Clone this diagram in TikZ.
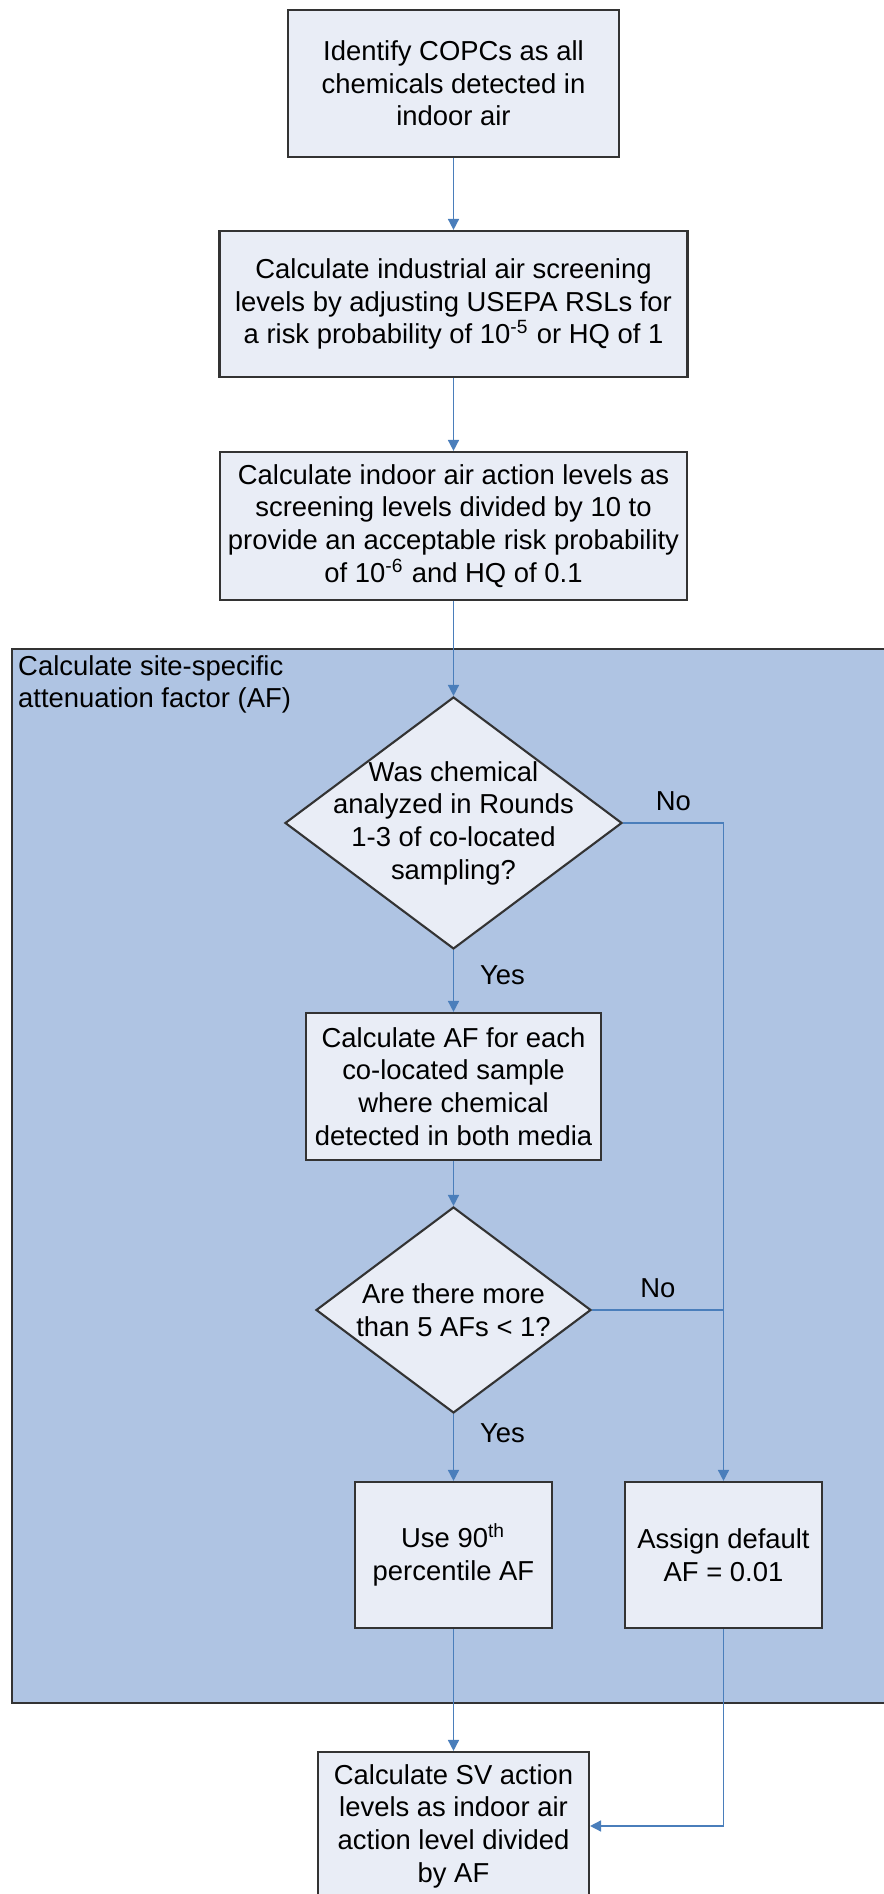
\documentclass[tikz,border=0pt]{standalone}
\usepackage{fontspec}
\setmainfont{Liberation Sans}
\usetikzlibrary{arrows.meta,shapes.geometric}
\definecolor{boxfill}{HTML}{E9EDF6}
\definecolor{groupfill}{HTML}{AFC4E3}
\definecolor{linkblue}{HTML}{4A7EBB}
\definecolor{edgegray}{HTML}{333333}

\begin{document}
\begin{tikzpicture}[>={Triangle[length=1.1mm, width=1.1mm]},
  font=\fontsize{7.8}{9.3}\selectfont,
  stepbox/.style={draw=edgegray, fill=boxfill, line width=0.6pt, align=center, inner sep=1pt},
  decision/.style={diamond, draw=edgegray, fill=boxfill, line width=0.6pt, inner sep=0pt},
  link/.style={draw=linkblue, line width=0.45pt}]
  \useasboundingbox (0,0) rectangle (8.84,18.94);
  % bloque AF (fondo)
  \node[draw=edgegray, fill=groupfill, line width=0.6pt, inner sep=0pt, anchor=north west,
        minimum width=8.75cm, minimum height=10.54cm] (afgroup) at (0.11,12.46) {};
  \node[anchor=north west, align=left, inner sep=1pt] (aflabel)
        at ([shift={(0.03,-0.03)}]afgroup.north west) {Calculate site-specific\\attenuation factor (AF)};
  % pasos de arriba
  \node[stepbox, minimum width=3.31cm, minimum height=1.47cm] (copc) at (4.535,18.105)
        {Identify COPCs as all\\chemicals detected in\\indoor air};
  \node[stepbox, minimum width=4.68cm, minimum height=1.46cm] (screen) at (4.535,15.90)
        {Calculate industrial air screening\\levels by adjusting USEPA RSLs for\\a risk probability of 10\textsuperscript{-5} or HQ of 1};
  \node[stepbox, minimum width=4.67cm, minimum height=1.48cm] (action) at (4.535,13.68)
        {Calculate indoor air action levels as\\screening levels divided by 10 to\\provide an acceptable risk probability\\of 10\textsuperscript{-6} and HQ of 0.1};
  % decisiones
  \node[decision, minimum width=3.37cm, minimum height=2.52cm] (rounds) at (4.535,10.71) {};
  \node[align=center] (roundstxt) at (rounds) {Was chemical\\analyzed in Rounds\\1-3 of co-located\\sampling?};
  \node[stepbox, minimum width=2.95cm, minimum height=1.47cm] (calcaf) at (4.535,8.075)
        {Calculate AF for each\\co-located sample\\where chemical\\detected in both media};
  \node[decision, minimum width=2.75cm, minimum height=2.06cm] (count) at (4.535,5.84) {};
  \node[align=center] (counttxt) at (count) {Are there more\\than 5 AFs < 1?};
  \node[stepbox, minimum width=1.97cm, minimum height=1.46cm] (pct) at (4.535,3.39)
        {Use 90\textsuperscript{th}\\percentile AF};
  \node[stepbox, minimum width=1.97cm, minimum height=1.46cm] (dflt) at (7.235,3.39)
        {Assign default\\AF = 0.01};
  % resultado
  \node[stepbox, minimum width=2.71cm, minimum height=1.48cm] (svlevel) at (4.535,0.68)
        {Calculate SV action\\levels as indoor air\\action level divided\\by AF};
  % flechas
  \draw[link,->] (copc) -- (screen);
  \draw[link,->] (screen) -- (action);
  \draw[link,->] (action) -- (rounds);
  \draw[link,->] (rounds) -- node[pos=0.4, right=4pt] (yes1) {Yes} (calcaf);
  \draw[link,->] (rounds.east) -| node[pos=0.25, above] (no1) {No} (dflt.north);
  \draw[link,->] (calcaf) -- (count);
  \draw[link] (count.east) -- node[midway, above] (no2) {No} (count.east -| dflt.north);
  \draw[link,->] (count) -- node[pos=0.28, right=4pt] (yes2) {Yes} (pct);
  \draw[link,->] (pct) -- (svlevel);
  \draw[link,->] (dflt.south) |- (svlevel.east);
\end{tikzpicture}
\end{document}
